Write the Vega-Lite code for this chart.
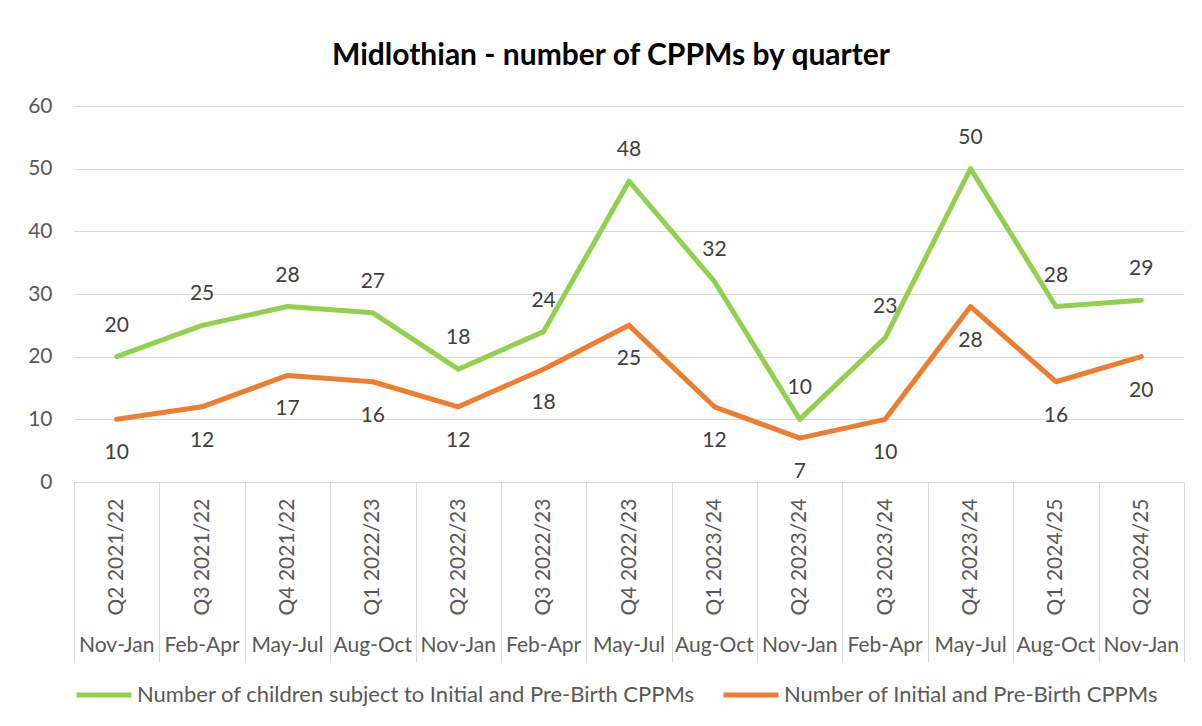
{
  "$schema": "https://vega.github.io/schema/vega-lite/v6.json",
  "width": 1110,
  "height": 376,
  "autosize": {"type": "none"},
  "padding": {"left": 74, "top": 106, "right": 18, "bottom": 244},
  "background": "white",
  "title": {"text": "Midlothian - number of CPPMs by quarter", "fontSize": 30, "font": "Lato", "fontWeight": "bold", "color": "#000000", "offset": 24, "dx": -18, "anchor": "middle"},
  "config": {
    "font": "Lato",
    "view": {"stroke": null},
    "legend": {"orient": "bottom", "direction": "horizontal", "title": null, "labelFontSize": 22, "labelColor": "#595959", "labelLimit": 800, "symbolType": "stroke", "symbolSize": 3025, "symbolStrokeWidth": 5, "labelOffset": 3, "columnPadding": 18, "offset": 2}
  },
  "data": {"values": [
    {"quarter": "Q2 2021/22|Nov-Jan", "series": "Number of children subject to Initial and Pre-Birth CPPMs", "value": 20},
    {"quarter": "Q3 2021/22|Feb-Apr", "series": "Number of children subject to Initial and Pre-Birth CPPMs", "value": 25},
    {"quarter": "Q4 2021/22|May-Jul", "series": "Number of children subject to Initial and Pre-Birth CPPMs", "value": 28},
    {"quarter": "Q1 2022/23|Aug-Oct", "series": "Number of children subject to Initial and Pre-Birth CPPMs", "value": 27},
    {"quarter": "Q2 2022/23|Nov-Jan", "series": "Number of children subject to Initial and Pre-Birth CPPMs", "value": 18},
    {"quarter": "Q3 2022/23|Feb-Apr", "series": "Number of children subject to Initial and Pre-Birth CPPMs", "value": 24},
    {"quarter": "Q4 2022/23|May-Jul", "series": "Number of children subject to Initial and Pre-Birth CPPMs", "value": 48},
    {"quarter": "Q1 2023/24|Aug-Oct", "series": "Number of children subject to Initial and Pre-Birth CPPMs", "value": 32},
    {"quarter": "Q2 2023/24|Nov-Jan", "series": "Number of children subject to Initial and Pre-Birth CPPMs", "value": 10},
    {"quarter": "Q3 2023/24|Feb-Apr", "series": "Number of children subject to Initial and Pre-Birth CPPMs", "value": 23},
    {"quarter": "Q4 2023/24|May-Jul", "series": "Number of children subject to Initial and Pre-Birth CPPMs", "value": 50},
    {"quarter": "Q1 2024/25|Aug-Oct", "series": "Number of children subject to Initial and Pre-Birth CPPMs", "value": 28},
    {"quarter": "Q2 2024/25|Nov-Jan", "series": "Number of children subject to Initial and Pre-Birth CPPMs", "value": 29},
    {"quarter": "Q2 2021/22|Nov-Jan", "series": "Number of Initial and Pre-Birth CPPMs", "value": 10},
    {"quarter": "Q3 2021/22|Feb-Apr", "series": "Number of Initial and Pre-Birth CPPMs", "value": 12},
    {"quarter": "Q4 2021/22|May-Jul", "series": "Number of Initial and Pre-Birth CPPMs", "value": 17},
    {"quarter": "Q1 2022/23|Aug-Oct", "series": "Number of Initial and Pre-Birth CPPMs", "value": 16},
    {"quarter": "Q2 2022/23|Nov-Jan", "series": "Number of Initial and Pre-Birth CPPMs", "value": 12},
    {"quarter": "Q3 2022/23|Feb-Apr", "series": "Number of Initial and Pre-Birth CPPMs", "value": 18},
    {"quarter": "Q4 2022/23|May-Jul", "series": "Number of Initial and Pre-Birth CPPMs", "value": 25},
    {"quarter": "Q1 2023/24|Aug-Oct", "series": "Number of Initial and Pre-Birth CPPMs", "value": 12},
    {"quarter": "Q2 2023/24|Nov-Jan", "series": "Number of Initial and Pre-Birth CPPMs", "value": 7},
    {"quarter": "Q3 2023/24|Feb-Apr", "series": "Number of Initial and Pre-Birth CPPMs", "value": 10},
    {"quarter": "Q4 2023/24|May-Jul", "series": "Number of Initial and Pre-Birth CPPMs", "value": 28},
    {"quarter": "Q1 2024/25|Aug-Oct", "series": "Number of Initial and Pre-Birth CPPMs", "value": 16},
    {"quarter": "Q2 2024/25|Nov-Jan", "series": "Number of Initial and Pre-Birth CPPMs", "value": 20}
  ]},
  "layer": [
    {
      "mark": {"type": "line", "strokeWidth": 5, "strokeCap": "round", "strokeJoin": "round"},
      "encoding": {
        "x": {"field": "quarter", "type": "nominal", "sort": null, "scale": {"type": "band", "paddingInner": 0, "paddingOuter": 0},
          "axis": {"title": null, "orient": "bottom", "labelAngle": -90, "labelAlign": "right", "labelBaseline": "middle", "labelExpr": "datum.value ? split(datum.value, '|')[0] : ''", "labelFontSize": 21, "labelColor": "#595959", "labelPadding": -164, "ticks": true, "tickBand": "extent", "tickSize": 180, "tickColor": "#D9D9D9", "tickWidth": 1, "domain": true, "domainColor": "#D9D9D9", "domainWidth": 1, "grid": false, "labelLimit": 200, "labelOverlap": false}},
        "y": {"field": "value", "type": "quantitative", "scale": {"domain": [0, 60], "nice": false},
          "axis": {"title": null, "values": [0, 10, 20, 30, 40, 50, 60], "domain": false, "ticks": false, "grid": true, "gridColor": "#D9D9D9", "gridWidth": 1, "labelFontSize": 21, "labelColor": "#595959", "labelPadding": 22}},
        "color": {"field": "series", "type": "nominal", "sort": null,
          "scale": {"domain": ["Number of children subject to Initial and Pre-Birth CPPMs", "Number of Initial and Pre-Birth CPPMs"], "range": ["#92D050", "#ED7D31"]},
          "legend": {"title": null}}
      }
    },
    {
      "transform": [{"filter": "datum.series == 'Number of children subject to Initial and Pre-Birth CPPMs'"}],
      "mark": {"type": "text", "dy": -31, "fontSize": 21, "color": "#404040"},
      "encoding": {
        "x": {"field": "quarter", "type": "nominal", "sort": null, "scale": {"type": "band", "paddingInner": 0, "paddingOuter": 0},
          "axis": {"title": null, "orient": "bottom", "offset": 150, "labelAngle": 0, "labelAlign": "center", "labelBaseline": "top", "labelExpr": "datum.value ? split(datum.value, '|')[1] : ''", "labelFontSize": 21, "labelColor": "#595959", "labelPadding": 2, "ticks": false, "domain": false, "grid": false, "labelOverlap": false}},
        "y": {"field": "value", "type": "quantitative"},
        "text": {"field": "value", "type": "quantitative"}
      }
    },
    {
      "transform": [{"filter": "datum.series == 'Number of Initial and Pre-Birth CPPMs'"}],
      "mark": {"type": "text", "dy": 34, "fontSize": 21, "color": "#404040"},
      "encoding": {
        "x": {"field": "quarter", "type": "nominal", "sort": null, "scale": {"type": "band", "paddingInner": 0, "paddingOuter": 0}, "axis": null},
        "y": {"field": "value", "type": "quantitative"},
        "text": {"field": "value", "type": "quantitative"}
      }
    }
  ],
  "resolve": {"axis": {"x": "independent"}}
}
